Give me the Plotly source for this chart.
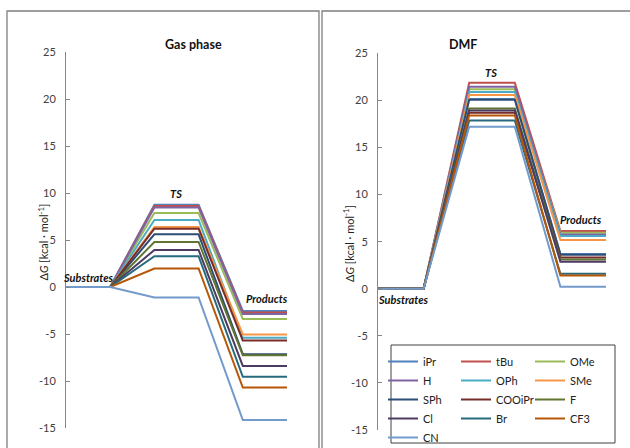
import plotly.graph_objects as go

# ---------------- data ----------------
states = ["Substrates", "Substrates", "TS", "TS", "Products", "Products"]
substituents = ["iPr", "tBu", "OMe", "H", "OPh", "SMe", "SPh", "COOiPr", "F", "Cl", "Br", "CF3", "CN"]
colors = ["#4F81BD", "#C0504D", "#9BBB59", "#8064A2", "#4BACC6", "#F79646",
          "#2C4D75", "#772C2A", "#5F7530", "#4D3B62", "#276A7C", "#B65708", "#729ACA"]

gas_ts = [8.76, 8.62, 7.87, 8.45, 7.13, 6.38, 5.60, 6.20, 4.79, 3.94, 3.28, 1.97, -1.12]
gas_prod = [-2.55, -2.72, -3.40, -2.88, -5.40, -5.05, -7.15, -5.70, -7.25, -8.40, -9.55, -10.70, -14.15]

dmf_ts = [20.15, 21.87, 21.17, 21.44, 20.90, 20.56, 20.08, 18.68, 19.15, 18.93, 17.87, 18.40, 17.20]
dmf_prod = [3.70, 6.12, 5.95, 5.75, 5.60, 5.17, 3.62, 3.33, 3.10, 2.87, 1.58, 1.40, 0.21]

x_pos = [0, 1, 2, 3, 4, 5]
y_ticks = [-15, -10, -5, 0, 5, 10, 15, 20, 25]
y_ticktext = [str(v) for v in y_ticks]

FONT = "Lato, 'Liberation Sans', sans-serif"
W, H = 630, 448

fig = go.Figure()
legend_ids = ["legend", "legend2", "legend3"]

for i, name in enumerate(substituents):
    fig.add_trace(go.Scatter(
        x=x_pos, y=[0, 0, gas_ts[i], gas_ts[i], gas_prod[i], gas_prod[i]],
        mode="lines", line=dict(color=colors[i], width=2),
        name=name, legend=legend_ids[i % 3], showlegend=True,
        xaxis="x", yaxis="y", hoverinfo="name+y"))
for i, name in enumerate(substituents):
    fig.add_trace(go.Scatter(
        x=x_pos, y=[0, 0, dmf_ts[i], dmf_ts[i], dmf_prod[i], dmf_prod[i]],
        mode="lines", line=dict(color=colors[i], width=2),
        name=name, legend=legend_ids[i % 3], showlegend=False,
        xaxis="x2", yaxis="y2", hoverinfo="name+y"))

yax = dict(range=[-15, 25], tickvals=y_ticks, ticktext=y_ticktext,
           showline=True, linecolor="#868686", linewidth=1,
           ticks="inside", ticklen=4, tickcolor="#868686",
           showgrid=False, zeroline=False, ticklabelstandoff=7,
           tickfont=dict(family=FONT, size=11, color="#404040"))
xax = dict(range=[0, 5], visible=False, showgrid=False, zeroline=False)

fig.update_layout(
    width=W, height=H, margin=dict(l=0, r=0, t=0, b=0, autoexpand=False),
    paper_bgcolor="white", plot_bgcolor="white",
    font=dict(family=FONT, size=11, color="#222222"),
    xaxis=dict(domain=[66 / W, 287 / W], anchor="y", **xax),
    yaxis=dict(domain=[(H - 428) / H, (H - 52) / H], anchor="x", **yax),
    xaxis2=dict(domain=[378 / W, 606 / W], anchor="y2", **xax),
    yaxis2=dict(domain=[(H - 430) / H, (H - 53.3) / H], anchor="x2", **yax),
    showlegend=True,
)

leg_common = dict(orientation="v", xanchor="left", yanchor="top", y=(H - 347) / H,
                  bgcolor="rgba(0,0,0,0)", borderwidth=0,
                  font=dict(family=FONT, size=11, color="#222222"),
                  itemwidth=30, tracegroupgap=0)
fig.update_layout(
    legend=dict(x=383 / W, **leg_common),
    legend2=dict(x=456 / W, **leg_common),
    legend3=dict(x=530 / W, **leg_common),
)

shapes = [
    # chart borders
    dict(type="rect", xref="paper", yref="paper", x0=7 / W, x1=319 / W, y0=-0.05, y1=(H - 11) / H,
         line=dict(color="#7F7F7F", width=1.3), fillcolor="rgba(0,0,0,0)", layer="below"),
    dict(type="rect", xref="paper", yref="paper", x0=322 / W, x1=1.05, y0=-0.05, y1=(H - 11) / H,
         line=dict(color="#7F7F7F", width=1.3), fillcolor="rgba(0,0,0,0)", layer="below"),
    # legend box
    dict(type="rect", xref="paper", yref="paper", x0=391 / W, x1=615 / W,
         y0=(H - 443) / H, y1=(H - 345) / H,
         line=dict(color="#404040", width=1), fillcolor="white", layer="below"),
]
fig.update_layout(shapes=shapes)

lab_font = dict(family=FONT, size=11, color="#111111")
annotations = [
    dict(text="<b>Gas phase</b>", xref="paper", yref="paper", x=163 / W, y=(H - 35) / H,
         showarrow=False, font=dict(family=FONT, size=12.5, color="#111111")),
    dict(text="<b>DMF</b>", xref="paper", yref="paper", x=479 / W, y=(H - 35) / H,
         showarrow=False, font=dict(family=FONT, size=12.5, color="#111111")),
    dict(text="Δ<i>G</i> [kcal · mol<sup>-1</sup>]", xref="paper", yref="paper",
         x=33 / W, y=(H - 242) / H, textangle=-90, showarrow=False,
         font=dict(family=FONT, size=11, color="#222222")),
    dict(text="Δ<i>G</i> [kcal · mol<sup>-1</sup>]", xref="paper", yref="paper",
         x=348 / W, y=(H - 244) / H, textangle=-90, showarrow=False,
         font=dict(family=FONT, size=11, color="#222222")),
    # data labels
    dict(text="<b><i>TS</i></b>", xref="x", yref="y", x=2.49, y=10.0, showarrow=False, font=lab_font),
    dict(text="<b><i>Substrates</i></b>", xref="x", yref="y", x=0.51, y=0.96, showarrow=False, font=lab_font),
    dict(text="<b><i>Products</i></b>", xref="x", yref="y", x=4.54, y=-1.17, showarrow=False, font=lab_font),
    dict(text="<b><i>TS</i></b>", xref="x2", yref="y2", x=2.48, y=23.0, showarrow=False, font=lab_font),
    dict(text="<b><i>Substrates</i></b>", xref="x2", yref="y2", x=0.56, y=-1.09, showarrow=False, font=lab_font),
    dict(text="<b><i>Products</i></b>", xref="x2", yref="y2", x=4.45, y=7.4, showarrow=False, font=lab_font),
]
fig.update_layout(annotations=annotations)

fig.write_html("out.html")
